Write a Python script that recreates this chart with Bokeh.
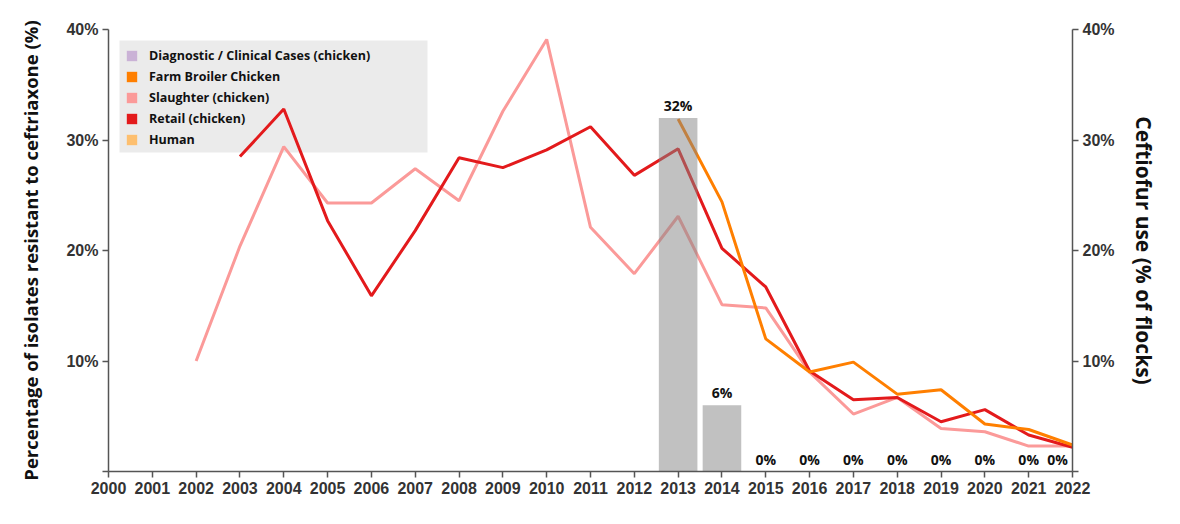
from bokeh.plotting import figure
from bokeh.models import (Range1d, LinearAxis, FixedTicker, CustomJSTickFormatter,
                          Legend, LegendItem, ColumnDataSource, BoxAnnotation)
from bokeh.core.properties import value
from bokeh.embed import file_html
from bokeh.resources import INLINE

# ---------------- data ----------------
years = list(range(2000, 2023))

slaughter_years = list(range(2002, 2023))
slaughter_vals = [10.0, 20.4, 29.4, 24.3, 24.3, 27.4, 24.5, 32.6, 39.1, 22.1, 17.9,
                  23.1, 15.1, 14.8, 9.0, 5.2, 6.7, 3.9, 3.6, 2.3, 2.3]

retail_years = list(range(2003, 2023))
retail_vals = [28.5, 32.8, 22.7, 15.9, 21.8, 28.4, 27.5, 29.1, 31.2, 26.8,
               29.2, 20.2, 16.7, 9.1, 6.5, 6.7, 4.5, 5.6, 3.3, 2.2]

farm_years = list(range(2013, 2023))
farm_vals = [31.9, 24.4, 12.0, 9.0, 9.9, 7.0, 7.4, 4.3, 3.8, 2.4]

use_years = list(range(2013, 2023))
use_vals = [32, 6, 0, 0, 0, 0, 0, 0, 0, 0]
use_labels = ["32%", "6%", "0%", "0%", "0%", "0%", "0%", "0%", "0%", "0%"]

legend_names = ["Diagnostic / Clinical Cases (chicken)", "Farm Broiler Chicken",
                "Slaughter (chicken)", "Retail (chicken)", "Human"]
legend_colors = ["#cab2d6", "#ff7f00", "#fb9a99", "#e31a1c", "#fdbf6f"]

# ---------------- figure ----------------
p = figure(frame_width=964, frame_height=442, output_backend="svg", toolbar_location=None,
           x_range=Range1d(2000, 2022), y_range=Range1d(0, 40),
           min_border_left=108, min_border_right=92, min_border_top=29, min_border_bottom=37)
p.extra_y_ranges = {"right": Range1d(0, 40)}
p.xgrid.visible = False
p.ygrid.visible = False
p.outline_line_color = None
p.background_fill_color = "white"

fmt = CustomJSTickFormatter(code="return tick == 0 ? '' : tick + '%';")
axis_color = "#555555"
label_color = "#333333"
tick_font = "Liberation Sans"

def style_axis(ax):
    ax.axis_line_color = axis_color
    ax.axis_line_width = 1.5
    ax.major_tick_line_color = axis_color
    ax.major_tick_line_width = 1.5
    ax.major_tick_out = 6
    ax.major_tick_in = 0
    ax.minor_tick_line_color = None
    ax.major_label_text_font = tick_font
    ax.major_label_text_font_style = "bold"
    ax.major_label_text_font_size = "16px"
    ax.major_label_text_color = label_color
    ax.major_label_standoff = 4
    ax.axis_label_text_font = "Open Sans"
    ax.axis_label_text_font_style = "bold"
    ax.axis_label_text_color = "#111111"

xa = p.xaxis[0]
xa.ticker = FixedTicker(ticks=years)
style_axis(xa)

ya = p.yaxis[0]
ya.ticker = FixedTicker(ticks=[0, 10, 20, 30, 40])
ya.formatter = fmt
style_axis(ya)
ya.axis_label = "Percentage of isolates resistant to ceftriaxone (%)"
ya.axis_label_text_font_size = "18.5px"
ya.axis_label_standoff = 20

ra = LinearAxis(y_range_name="right", ticker=FixedTicker(ticks=[0, 10, 20, 30, 40]),
                formatter=fmt)
style_axis(ra)
ra.axis_label = "Ceftiofur use (% of flocks)"
ra.axis_label_text_font_size = "21px"
ra.axis_label_standoff = 12
p.add_layout(ra, "right")

# ---------------- legend background (under the lines) ----------------
legend_bg = BoxAnnotation(left=119, right=427, top=40, bottom=152,
                          left_units="canvas", right_units="canvas",
                          top_units="canvas", bottom_units="canvas",
                          fill_color="#ebebeb", fill_alpha=1.0, line_color=None,
                          level="underlay")
p.add_layout(legend_bg)

# ---------------- lines ----------------
p.line(slaughter_years, slaughter_vals, line_color="#fb9a99", line_width=3)
p.line(retail_years, retail_vals, line_color="#e31a1c", line_width=3)
p.line(farm_years, farm_vals, line_color="#ff7f00", line_width=3)

# ---------------- bars (drawn over lines, semi-transparent) ----------------
bar_src = ColumnDataSource(dict(x=use_years, top=use_vals, lab=use_labels,
                                xoff=[0] * (len(use_years) - 1) + [-15]))
p.vbar(x="x", top="top", width=0.88, source=bar_src, y_range_name="right",
       fill_color="#848484", fill_alpha=0.5, line_color=None)
p.text(x="x", y="top", text="lab", source=bar_src, y_range_name="right",
       x_offset="xoff", y_offset=-3, text_align="center", text_baseline="bottom",
       text_font=value("Open Sans"), text_font_style="bold", text_font_size="14px",
       text_color="#111111")

# ---------------- legend ----------------
nan = float("nan")
items = []
for name, col in zip(legend_names, legend_colors):
    src = ColumnDataSource(dict(l=[nan], r=[nan], t=[nan], b=[nan]))
    r = p.quad(left="l", right="r", top="t", bottom="b", source=src,
               fill_color=col, line_color=None)
    items.append(LegendItem(label=name, renderers=[r]))

legend = Legend(items=items, location="top_left", margin=17, padding=9,
                spacing=2, label_height=19, glyph_height=13, glyph_width=13,
                label_standoff=11,
                background_fill_alpha=0.0, border_line_color=None,
                label_text_font="Open Sans", label_text_font_style="bold",
                label_text_font_size="12.5px", label_text_color="#111111")
p.add_layout(legend, "center")

open("out.html", "w").write(file_html(p, INLINE))
